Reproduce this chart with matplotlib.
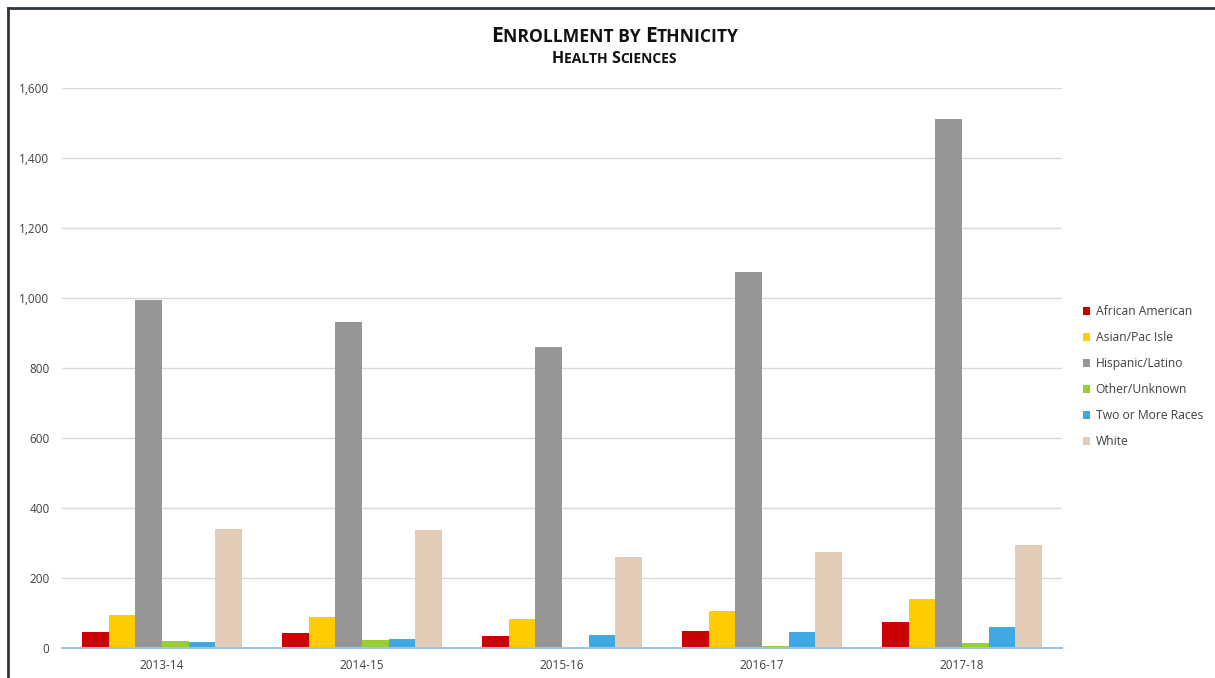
import matplotlib
matplotlib.use("Agg")
import matplotlib.pyplot as plt
import numpy as np
from matplotlib.lines import Line2D
from matplotlib.patches import Patch

years = ["2013-14", "2014-15", "2015-16", "2016-17", "2017-18"]
series_names = ["African American", "Asian/Pac Isle", "Hispanic/Latino",
                "Other/Unknown", "Two or More Races", "White"]
african_american = [47, 43, 33, 50, 73]
asian_pac_isle = [95, 90, 83, 106, 139]
hispanic_latino = [994, 931, 860, 1074, 1511]
other_unknown = [21, 24, 4, 7, 13]
two_or_more = [16, 27, 37, 47, 60]
white = [340, 337, 260, 274, 294]
yticks = [0, 200, 400, 600, 800, 1000, 1200, 1400, 1600]

series = [african_american, asian_pac_isle, hispanic_latino,
          other_unknown, two_or_more, white]
colors = ["#CC0000", "#FFCC00", "#969696", "#9ACD32", "#3DA9E0", "#E2CCB8"]

plt.rcParams['font.family'] = ['Open Sans', 'DejaVu Sans']

W, H = 1215, 678
fig = plt.figure(figsize=(W / 100, H / 100), dpi=100)
ax = fig.add_axes([62 / W, 1 - 648 / H, 1000 / W, 560 / H])

n = len(series)
group = 0.8
bw = group / n
x = np.arange(len(years))
for i, (vals, c) in enumerate(zip(series, colors)):
    ax.bar(x - group / 2 + bw * (i + 0.5), vals, width=bw, color=c,
           edgecolor='none', zorder=3)

ax.set_xlim(-0.5, len(years) - 0.5)
ax.set_ylim(0, 1600)
ax.set_yticks(yticks)
ax.set_yticklabels([f"{v:,}" for v in yticks])
ax.set_xticks(x)
ax.set_xticklabels(years)
ax.yaxis.grid(True, color="#D9D9D9", linewidth=1, zorder=0)
ax.tick_params(axis='both', length=0, labelsize=8.5, labelcolor="#404040")
ax.tick_params(axis='y', pad=9)
ax.tick_params(axis='x', pad=8)
for s in ['top', 'right', 'left']:
    ax.spines[s].set_visible(False)
ax.spines['bottom'].set_color("#9DC3E6")
ax.spines['bottom'].set_linewidth(1.5)
ax.spines['bottom'].set_zorder(4)

# legend
handles = [Patch(facecolor=c, edgecolor='none') for c in colors]
leg = fig.legend(handles, series_names, loc='upper left',
                 bbox_to_anchor=(1083 / W, 1 - 305 / H),
                 frameon=False, fontsize=8.7, handlelength=0.6,
                 handleheight=0.7, handletextpad=0.45, labelspacing=1.08,
                 labelcolor="#404040", borderaxespad=0, borderpad=0)

# border lines
fig.add_artist(Line2D([7.5 / W, 1], [1 - 7.5 / H, 1 - 7.5 / H],
                      transform=fig.transFigure, color="#2F3642", lw=2))
fig.add_artist(Line2D([7.5 / W, 7.5 / W], [0, 1 - 7.5 / H],
                      transform=fig.transFigure, color="#2F3642", lw=2))

# small caps titles
renderer = fig.canvas.get_renderer()


def smallcaps(text, xc, yc, big, small, color="#000000"):
    parts = []
    cur = ""
    cur_up = None
    for ch in text:
        up = ch.isupper() or not ch.isalpha()
        if ch == " ":
            up = cur_up if cur_up is not None else True
        if cur_up is None or up == cur_up:
            cur += ch
        else:
            parts.append((cur, cur_up))
            cur = ch
        cur_up = up
    parts.append((cur, cur_up))
    objs = []
    total = 0
    for s, up in parts:
        t = fig.text(0, 0, s.upper(), fontsize=big if up else small,
                     fontweight='bold', color=color, va='baseline',
                     ha='left', transform=None)
        w = t.get_window_extent(renderer).width
        objs.append((t, w))
        total += w
    xs = xc - total / 2
    for t, w in objs:
        t.set_position((xs, yc))
        xs += w


smallcaps("Enrollment by Ethnicity", 615, H - 42, 15.2, 12.6, "#111111")
smallcaps("Health Sciences", 614, H - 63, 11.5, 10, "#111111")

fig.savefig("out.png", dpi=100)
